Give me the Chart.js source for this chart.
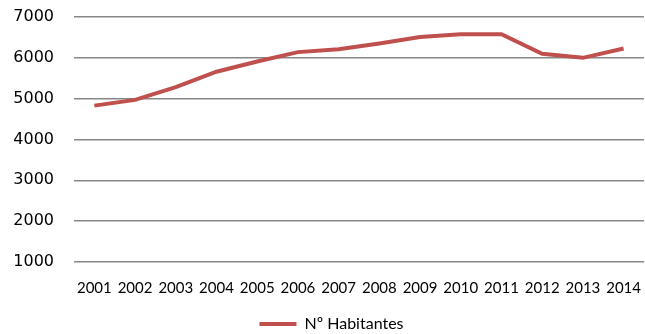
<!DOCTYPE html>
<html>
<head>
<meta charset="utf-8">
<script src="https://cdn.jsdelivr.net/npm/chart.js@4"></script>
<style>
  html, body { margin: 0; padding: 0; background: #fff; overflow: hidden; }
  #wrap { width: 650px; height: 342px; }
</style>
</head>
<body>
<div id="wrap"><canvas id="chart"></canvas></div>
<script>
// data
const years = ["2001", "2002", "2003", "2004", "2005", "2006", "2007",
  "2008", "2009", "2010", "2011", "2012", "2013", "2014"];
const habitantes = [4830, 4970, 5280, 5660, 5910, 6140, 6210,
  6350, 6510, 6580, 6580, 6100, 6000, 6230];
const yTicks = [1000, 2000, 3000, 4000, 5000, 6000, 7000];

const red = "#C0504D";

new Chart(document.getElementById("chart"), {
  type: "line",
  data: {
    labels: years,
    datasets: [{
      label: "Nº Habitantes",
      data: habitantes,
      borderColor: red,
      backgroundColor: red,
      borderWidth: 4,
      pointRadius: 0,
      tension: 0,
    }],
  },
  options: {
    responsive: true,
    maintainAspectRatio: false,
    animation: false,
    layout: { padding: { left: 13, top: 17, right: 0, bottom: 0 } },
    plugins: {
      tooltip: { enabled: false },
      legend: {
        position: "bottom",
        labels: {
          boxWidth: 37,
          boxHeight: 4,
          padding: 5,
          color: "#000",
          font: { family: "Lato", size: 16 },
          generateLabels: (chart) => {
            const items = Chart.defaults.plugins.legend.labels.generateLabels(chart);
            items.forEach((it) => { it.lineWidth = 0; });
            return items;
          },
        },
      },
    },
    scales: {
      x: {
        offset: true,
        grid: { display: false },
        border: { display: false },
        ticks: {
          color: "#000",
          font: { family: "Lato", size: 15 },
          maxRotation: 0,
          autoSkip: false,
          padding: 9,
        },
        afterFit: (axis) => { axis.height = 49; },
      },
      y: {
        min: 1000,
        max: 7000,
        afterBuildTicks: (axis) => { axis.ticks = yTicks.map((v) => ({ value: v })); },
        grid: { color: "#878787", lineWidth: 1.5, drawTicks: false },
        border: { display: false },
        ticks: {
          color: "#000",
          font: { family: "DejaVu Sans", size: 16 },
          padding: 20,
          callback: (v) => String(v),
        },
        afterFit: (axis) => {
          axis.width = 61;
          axis.paddingTop = 0;
          axis.paddingBottom = 0;
        },
      },
    },
  },
});
</script>
</body>
</html>
